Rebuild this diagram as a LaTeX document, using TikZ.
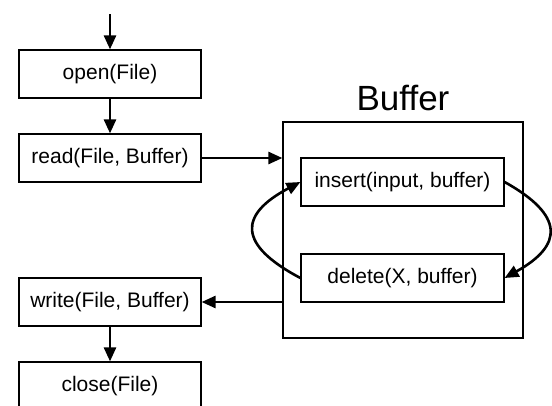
\documentclass[tikz,border=0pt]{standalone}
\usepackage{fontspec}
\setmainfont{Liberation Sans}
\usetikzlibrary{arrows.meta}

\begin{document}
\begin{tikzpicture}
  [x=1pt,y=-1pt,
   every node/.style={font=\fontsize{21}{25}\selectfont},
   fun/.style={draw,line width=1.2pt,minimum width=182pt,minimum height=48pt,inner sep=0pt}, % the boxes for the calls
   flow/.style={line width=2.6pt,-{Triangle[length=14pt,width=12pt]}}]

    \clip (0,0) rectangle (552,405);

    \coordinate (start) at (110,14);
    \node[fun] (open)  at (110,74)  {open(File)};
    \node[fun] (read)  at (110,158) {read(File, Buffer)};
    \node[fun] (write) at (110,302) {write(File, Buffer)};
    \node[fun] (close) at (110,386) {close(File)};

    \node[draw,line width=1.2pt,minimum width=240pt,minimum height=216pt] (buffer) at (403,230) {};
    \node[font=\fontsize{35}{40}\selectfont,inner sep=0pt] (buflabel) at (403,98) {Buffer};
    \node[fun,minimum width=203pt] (insert) at (402.5,182) {insert(input, buffer)};
    \node[fun,minimum width=203pt] (delete) at (402.5,278) {delete(X, buffer)};

    \draw[flow] (start) -- (open);
    \draw[flow] (open) -- (read);
    \draw[flow] (write) -- (close);

    \draw[flow] (read.east) -- (read.east -| buffer.west);
    \draw[flow] (write.east -| buffer.west) -- (write.east);

    \draw[flow] (delete.west) .. controls (238,245) and (238,215) .. (insert.west);
    \draw[flow] (insert.east) .. controls (564,215) and (564,245) .. (delete.east);

\end{tikzpicture}
\end{document}
